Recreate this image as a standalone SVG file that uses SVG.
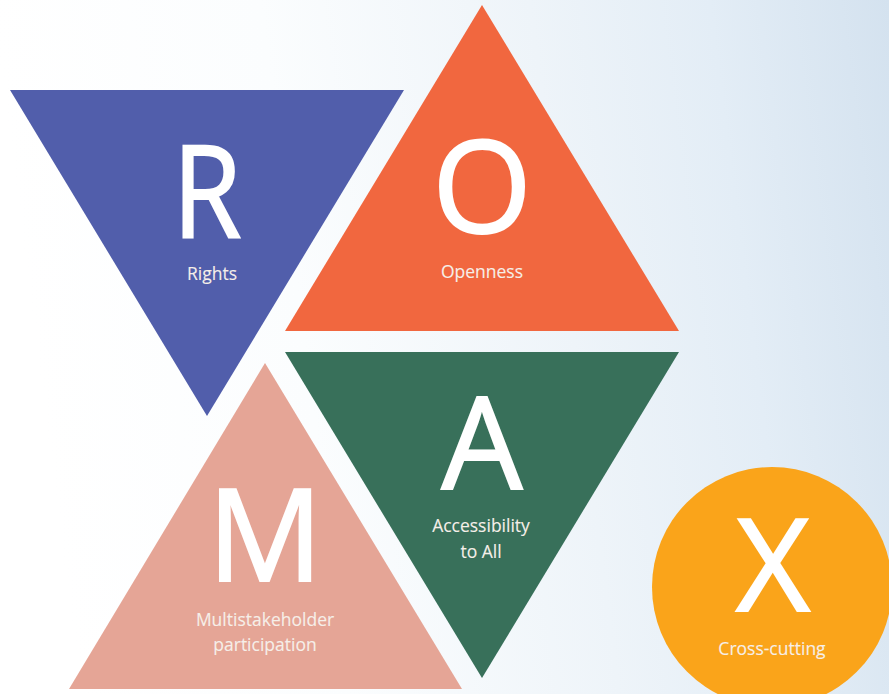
<svg xmlns="http://www.w3.org/2000/svg" width="889" height="694" viewBox="0 0 889 694">
<defs>
<linearGradient id="bg" x1="0" y1="0.1" x2="1" y2="0">
<stop offset="0" stop-color="#ffffff"/><stop offset="0.3" stop-color="#fbfdfe"/><stop offset="0.6" stop-color="#eef4f9"/><stop offset="0.8" stop-color="#e3edf6"/><stop offset="1" stop-color="#d4e2ef"/>
</linearGradient>
</defs>
<style>
text{font-family:"Open Sans","Noto Sans",sans-serif;fill:#fff;text-anchor:middle}
.big{font-size:128px;stroke:#fff;stroke-width:2px}
.small{font-size:17.5px;fill:#f6efe9;stroke:#f6efe9;stroke-width:.1px}
</style>
<rect width="889" height="694" fill="url(#bg)"/>
<g id="node-r"><polygon points="10,90 404,90 207,416" fill="#515eab"/><text class="big" x="207" y="237" textLength="69" lengthAdjust="spacingAndGlyphs">R</text><text class="small" x="212" y="280">Rights</text></g>
<g id="node-o"><polygon points="482,5 679,331 285,331" fill="#f1673f"/><text class="big" x="482" y="233">O</text><text class="small" x="482" y="278">Openness</text></g>
<g id="node-a"><polygon points="285,352 679,352 482,678" fill="#38705a"/><text class="big" x="482" y="489">A</text><text class="small" x="481" y="532">Accessibility</text><text class="small" x="481" y="558">to All</text></g>
<g id="node-m"><polygon points="265,363 462,689 69,689" fill="#e5a596"/><text class="big" x="265" y="581">M</text><text class="small" x="265" y="626">Multistakeholder</text><text class="small" x="265" y="651">participation</text></g>
<g id="node-x"><circle cx="772" cy="587" r="120" fill="#faa41a"/><text class="big" x="773" y="611">X</text><text class="small" x="772" y="655">Cross-cutting</text></g>
<g id="connectors"/>
</svg>
